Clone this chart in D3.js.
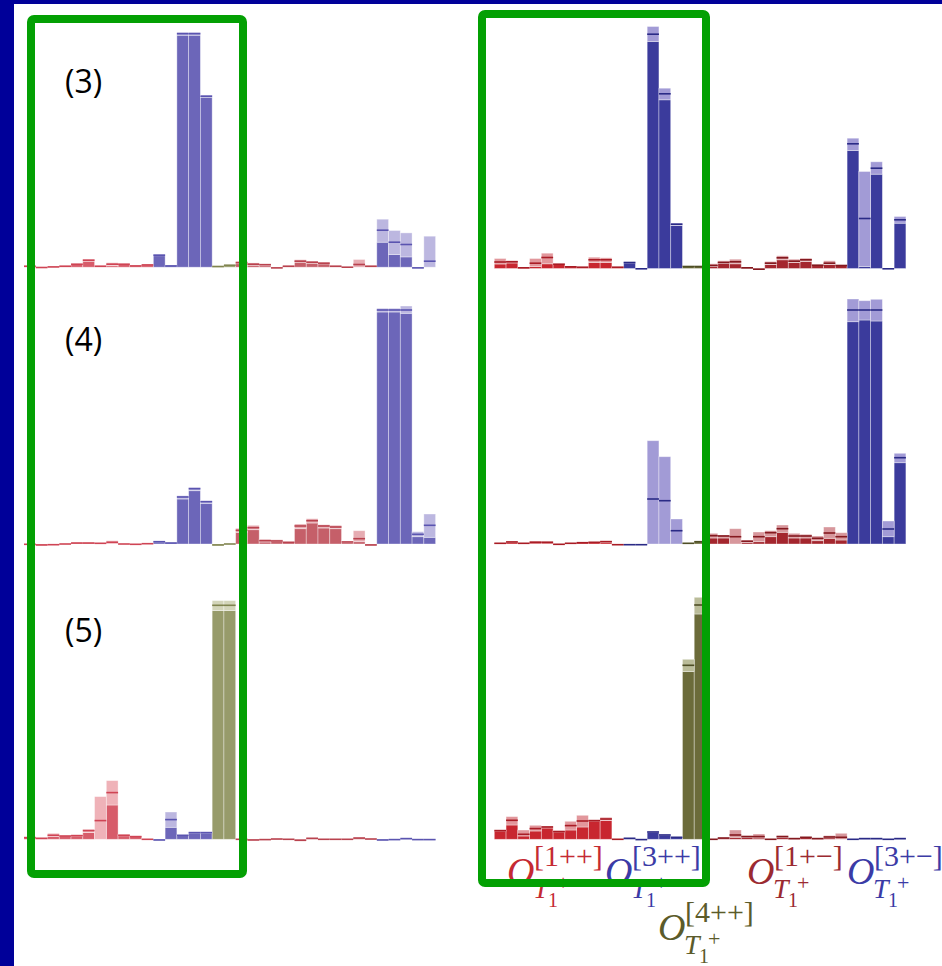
<!DOCTYPE html>
<html><head><meta charset="utf-8">
<script src="https://cdn.jsdelivr.net/npm/d3@7"></script>
<style>html,body{margin:0;padding:0;background:#fff;} svg{display:block}</style>
</head><body>
<svg id="chart" width="942" height="966"></svg>
<script>
// Operator groups along each histogram, in bin order
const groupNames = ["1++", "3++", "4++", "1+-", "3+-"];
const groupSizes = [11, 5, 2, 12, 5];
const panelTags = ["(3)", "(4)", "(5)"];

// Overlaps per bin: [value, lower, upper]; a lone [value] carries no visible error band
const state3Left = [
  [1],[-0.3],[0.3],[1],[3],[7,6,8],[1],[3,1.5,4.5],[3,2.7,3.3],[1.3],[2.3],
  [12,11.5,13],[1.3],[233.5,232,235],[233.5,232,235],[171,170,172],
  [0.7],[2],
  [4.5,3.5,6],[3,2,4.3],[2.5,1.5,3.3],[-0.7],[1],[6,5,7.5],[5,4,6],[4,3.3,5],[1],[0],[2.7,0,7.7],[1],
  [37,25,48],[25,12.7,36.7],[22.7,10.3,34.3],[-0.7],[6,0,31]
];
const state3Right = [
  [6.5,4.5,10],[6.7,5.5,8],[0.7],[5.3,2,10],[11,4.7,15.3],[4.3,4,4.5],[1.7],[1.3],[8.7,6,11.3],[8.7,6,10.7],[1.3],
  [6,5.5,6.5],[-0.3],[234.3,227,242],[174.7,168.7,180.3],[44.3,43,45.3],
  [2],[2],
  [3,2,4.7],[6,5,7.7],[6.7,4.7,9.3],[0.7],[-0.7],[5.3,4,7],[10.7,8.7,12.7],[7.3,6,9.3],[8.7,7,10.3],[3.3],[5.3,4,7.7],[3],
  [124.7,118,130.3],[50,2,97],[100.3,94.3,106.7],[-0.3],[48.7,45.3,52]
];
const state4Left = [
  [-0.3],[-1],[-0.7],[0],[1],[1],[0.7],[1.7,0.5,3.3],[0],[-0.3],[0.3],
  [2.3,2,3],[1],[47,45,48.3],[55.3,53.3,56.7],[42.3,40.7,43.3],
  [-1],[0],
  [13.7,11.7,15.7],[16.3,14.3,18.7],[3.3,2,4.7],[3,2.5,4.3],[1.7],[18,15.3,20],[23.3,21,25.3],[18,16,19.3],[17,15.3,18.7],[2,1.5,3],[5.3,2.3,13.3],[-1],
  [234,232,235.7],[234,232,235.7],[234,230.7,238],[9.7,7.3,12.3],[18.7,6.7,30]
];
const state4Right = [
  [0.7],[2,1.5,3],[0.7],[1.7,1,3],[1.7,1,2.7],[-0.3],[0.7],[1.3],[1.7],[2.3,1.5,3.3],[-0.7],
  [-0.7],[-0.7],[45,0,103.3],[43.3,0,87.3],[13.3,0,25],
  [0.7],[2.3],
  [8.3,6,10.7],[8,6,9],[7.3,0,15.3],[2.7,1.5,4],[7.3,2.3,12],[11.3,7.3,13.3],[15.3,11.7,19],[8,6,10.7],[8,6,9.7],[5.7,3.3,8],[11,5.7,17],[7.3,4,11.3],
  [234,222.3,245],[234,224,243.3],[234,223,244.7],[15,7.3,23],[86.3,81.3,90.7]
];
const state5Left = [
  [1.7],[1],[4,2.7,6],[3.3],[3.7,3.3,4.3],[8.7,6.7,10],[18.7,0,42.7],[46.7,34.3,58.7],[4,3.5,5],[2.7],[0],
  [-0.7],[19.7,12,27.3],[4,3.8,4.3],[6.7,6.3,7.3],[6.7,6.3,7.3],
  [234,228.7,238.7],[234,228.7,238.7],
  [0],[-0.7],[-0.3],[0.3],[0],[-1],[1],[0],[0],[0],[1.3],[0.3],
  [-0.7],[-0.3],[0.7],[-0.3],[-0.3]
];
const state5Right = [
  [8.7,8.3,9],[19,14.3,22.7],[5,3.3,9.3],[10.7,8.3,14],[12.3,11.3,13.3],[7.7,7.3,8.7],[13.7,9.3,18],[18.3,12.3,24],[18.7,18.3,19.3],[20.3,18.7,22],[0],
  [1],[-0.3],[7.3,7,8],[4.3,4,5],[2,1.8,2.3],
  [174,167.7,180],[234.3,225.3,242],
  [0],[1.3],[4.3,2,9.3],[2.7,2,3.7],[2.7,1.3,5.3],[0],[2.7,2,3.7],[0.7],[2],[0.7],[2.3,1.5,3.7],[2,0,6],
  [0],[0.7],[0.7],[0],[0.7]
];

// ---- styling -------------------------------------------------------------
const palettes = {
  left: [
    {solid: "#d75c6a", light: "#efb2b8", line: "#cf4454"},
    {solid: "#6c66b9", light: "#bcb7e0", line: "#5a54b0"},
    {solid: "#979b6a", light: "#d3d5ba", line: "#80844f"},
    {solid: "#c55f69", light: "#e6acb2", line: "#b9424e"},
    {solid: "#6c66b9", light: "#bcb7e0", line: "#5a54b0"}
  ],
  right: [
    {solid: "#c8262f", light: "#e2979c", line: "#a91c25"},
    {solid: "#3b3b9c", light: "#a29bd6", line: "#2a2a86"},
    {solid: "#6b6b3a", light: "#babc99", line: "#4e4e25"},
    {solid: "#a4262e", light: "#d7979c", line: "#84191f"},
    {solid: "#3b3b9c", light: "#a29bd6", line: "#2a2a86"}
  ]
};
const labelColours = ["#c52a33", "#3b3ba6", "#5b5b2a", "#9b2a31", "#3b3ba6"];

const panels = [
  {data: state3Left,  side: "left",  x0: 24,    base: 267.2},
  {data: state3Right, side: "right", x0: 494.3, base: 268.5},
  {data: state4Left,  side: "left",  x0: 24,    base: 544},
  {data: state4Right, side: "right", x0: 494.3, base: 544},
  {data: state5Left,  side: "left",  x0: 24,    base: 839.3},
  {data: state5Right, side: "right", x0: 494.3, base: 839.3}
];

const W = 942, H = 966;
const svg = d3.select("#chart");
svg.append("rect").attr("width", W).attr("height", H).attr("fill", "#fff");

// slide frame
svg.append("rect").attr("x", 0).attr("y", 0).attr("width", W).attr("height", 4).attr("fill", "#000099");
svg.append("rect").attr("x", 0).attr("y", 0).attr("width", 14).attr("height", H).attr("fill", "#000099");

const nBins = d3.sum(groupSizes);
const binGroup = groupSizes.flatMap((n, g) => d3.range(n).map(() => g));
const binW = 11.76;

panels.forEach(p => {
  const x = d3.scaleLinear().domain([0, nBins]).range([p.x0, p.x0 + nBins * binW]);
  const y = d3.scaleLinear().domain([0, 234]).range([p.base, p.base - 234]);
  const pal = palettes[p.side];
  const bins = p.data.map((d, i) => {
    const [v, lo = v, hi = v] = d;
    return {i, v, lo, hi, c: pal[binGroup[i]]};
  });
  const g = svg.append("g");

  // solid part, up to the lower edge of the error band
  g.selectAll("rect.solid").data(bins).join("rect")
    .attr("class", "solid")
    .attr("x", d => x(d.i)).attr("width", d => x(d.i + 1) - x(d.i))
    .attr("y", d => y(Math.max(0, d.lo)))
    .attr("height", d => y(Math.min(0, d.lo)) - y(Math.max(0, d.lo)))
    .attr("fill", d => d.c.solid)
    .attr("stroke", "rgba(255,255,255,0.45)").attr("stroke-width", 0.8);

  // error band
  g.selectAll("rect.band").data(bins.filter(d => d.hi > d.lo)).join("rect")
    .attr("class", "band")
    .attr("x", d => x(d.i)).attr("width", d => x(d.i + 1) - x(d.i))
    .attr("y", d => y(d.hi))
    .attr("height", d => y(d.lo) - y(d.hi))
    .attr("fill", d => d.c.light)
    .attr("stroke", "rgba(255,255,255,0.45)").attr("stroke-width", 0.8);

  // central value
  g.selectAll("line.val").data(bins).join("line")
    .attr("class", "val")
    .attr("x1", d => x(d.i)).attr("x2", d => x(d.i + 1))
    .attr("y1", d => y(d.v)).attr("y2", d => y(d.v))
    .attr("stroke", d => d.c.line).attr("stroke-width", 1.6);
});

// state tags
const tagY = [93, 351, 641.5];
panelTags.forEach((t, k) => {
  svg.append("text").attr("x", 65).attr("y", tagY[k])
    .attr("font-family", "'Open Sans', sans-serif").attr("font-size", 32)
    .attr("fill", "#000").text(t);
});

// operator labels under the right-hand column
const labelPos = [[507, 884], [605, 884], [658, 940], [747, 884], [847, 884]];
groupNames.forEach((name, k) => {
  const [lx, ly] = labelPos[k];
  const lg = svg.append("g").attr("transform", `translate(${lx},${ly})`)
    .attr("fill", labelColours[k]).attr("font-family", "'Liberation Serif', 'DejaVu Serif', serif");
  lg.append("text").attr("x", 0).attr("y", 0).attr("font-size", 38).attr("font-style", "italic").text("O");
  lg.append("text").attr("x", 27).attr("y", -18).attr("font-size", 30)
    .text("[" + name.replace("-", "\u2212") + "]");
  lg.append("text").attr("x", 26).attr("y", 14).attr("font-size", 28).attr("font-style", "italic").text("T");
  lg.append("text").attr("x", 41).attr("y", 23).attr("font-size", 20).text("1");
  lg.append("text").attr("x", 50).attr("y", 6).attr("font-size", 22).text("+");
});

// highlight frames
svg.append("rect").attr("x", 31).attr("y", 19).attr("width", 212).attr("height", 855)
  .attr("rx", 3).attr("fill", "none").attr("stroke", "#03a003").attr("stroke-width", 8);
svg.append("rect").attr("x", 482).attr("y", 14).attr("width", 224).attr("height", 869)
  .attr("rx", 3).attr("fill", "none").attr("stroke", "#03a003").attr("stroke-width", 8);
</script>
</body></html>
